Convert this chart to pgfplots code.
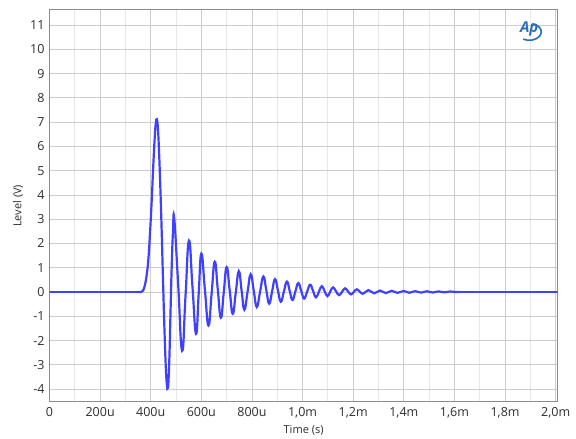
\documentclass[border=0pt]{standalone}
\usepackage{pgfplots}
\pgfplotsset{compat=1.18}
\usepackage{fontspec}
\setmainfont{Open Sans}
\definecolor{trace}{RGB}{64,64,255}
\definecolor{frame}{RGB}{140,140,140}
\definecolor{gmaj}{RGB}{205,205,205}
\definecolor{gmin}{RGB}{232,232,232}
\definecolor{txt}{RGB}{45,45,45}
\definecolor{aplogo}{RGB}{40,110,190}
\begin{document}
\begin{tikzpicture}
\begin{axis}[
  scale only axis,
  width=508.2pt, height=391.7pt,
  xmin=0, xmax=2008, ymin=-4.52, ymax=11.62,
  xtick={0,200,...,2000},
  xticklabels={0,200u,400u,600u,800u,{1,0m},{1,2m},{1,4m},{1,6m},{1,8m},{2,0m}},
  minor xtick={100,300,...,1900},
  ytick={-4,-3,...,11},
  yticklabels={-4,-3,-2,-1,0,1,2,3,4,5,6,7,8,9,10,11},
  grid=both,
  major grid style={color=gmaj, line width=0.8pt},
  minor grid style={color=gmin, line width=0.8pt},
  major tick length=0pt, minor tick length=0pt,
  axis line style={color=frame, line width=1pt},
  tick label style={color=txt, font=\fontsize{12.5}{14}\selectfont},
  xticklabel style={yshift=-2pt},
  yticklabel style={xshift=-1.5pt},
  xlabel={Time (s)}, ylabel={Level (V)},
  label style={color=txt, font=\fontsize{11}{13}\selectfont},
  xlabel style={at={(rel axis cs:0.5,-0.0723)}, anchor=center},
  ylabel style={at={(rel axis cs:-0.062,0.5)}, anchor=center, rotate=0},
  clip=true,
]
\addplot[color=trace, line width=2.2pt, line cap=round] coordinates {(0,0) (362,0)};
\addplot[color=trace, line width=2.2pt, line cap=round, smooth, tension=0.8] coordinates {
(354,0) (362,0) (369,0.05) (376,0.25) (384,0.7) (391,1.4) (397,2.4) (404,3.8) (410,5.2) (416,6.4) (420,6.95) (424,7.12) (428,6.8) (432,6.0) (437,4.6) (443,2.6) (449,0.3) (455,-1.8) (460,-3.2) (464,-3.85) (467,-3.97) (470,-3.7) (474,-2.6) (478,-0.9) (483,1.1) (488,2.5) (493,3.02)
(508.5,0.30) (524,-2.42) (537.5,-0.15) (551,2.12) (565,0.20) (579,-1.72) (589.5,-0.07) (600,1.58) (614,0.10) (628,-1.38) (640.5,-0.065) (653,1.25) (665,0.095) (677,-1.06) (688.5,-0.015) (700,1.03) (712,0.065) (724,-0.9) (736,-0.02) (748,0.86) (759,0.065) (770,-0.73) (782.5,0) (795,0.73) (807,0.055) (819,-0.62) (832,0.01) (845,0.64) (856.5,0.08) (868,-0.48) (879.5,0.025) (891,0.53) (902.5,0.065) (914,-0.40) (926,0.015) (938,0.43) (949,0.05) (960,-0.33) (971.5,0.02) (983,0.37) (994.5,0.05) (1006,-0.27) (1018,0.015) (1030,0.30) (1041.5,0.04) (1053,-0.22) (1064.5,0.01) (1076,0.24) (1087,0.035) (1098,-0.17) (1109,0.01) (1120,0.19) (1132,0.03) (1144,-0.13) (1156,0.01) (1168,0.15) (1179.5,0.025) (1191,-0.10) (1202.5,0.005) (1214,0.11) (1225.5,0.02) (1237,-0.07) (1248.5,0.005) (1260,0.08) (1271.5,0.013) (1283,-0.055) (1294.5,0.003) (1306,0.06) (1317.5,0.008) (1329,-0.045) (1340.5,0.003) (1352,0.05) (1363.5,0.008) (1375,-0.035) (1387,0.003) (1399,0.04) (1410.5,0.005) (1422,-0.03) (1433.5,0.003) (1445,0.035) (1456.5,0.005) (1468,-0.025) (1479.5,0.003) (1491,0.03) (1502.5,0.005) (1514,-0.02) (1525.5,0.003) (1537,0.025) (1548.5,0.005) (1560,-0.015) (1572,0.003) (1584,0.02) (1595.5,0.01) (1607,0) (1618,0)
};
\addplot[color=trace, line width=2.2pt, line cap=round] coordinates {(1607,0) (2008,0)};
\node[text=aplogo, font=\fontsize{15}{16}\selectfont\bfseries\itshape, inner sep=0pt] (ap) at (rel axis cs:0.944,0.952) {Ap};
\draw[aplogo, line width=1.6pt] ([xshift=-6pt,yshift=-3pt]ap.south) arc[start angle=-120, end angle=75, x radius=12pt, y radius=8.5pt];
\end{axis}
\path (current axis.south west) ++(-49.5pt,-34.3pt) rectangle ([xshift=18.3pt,yshift=10pt]current axis.north east);
\end{tikzpicture}
\end{document}
